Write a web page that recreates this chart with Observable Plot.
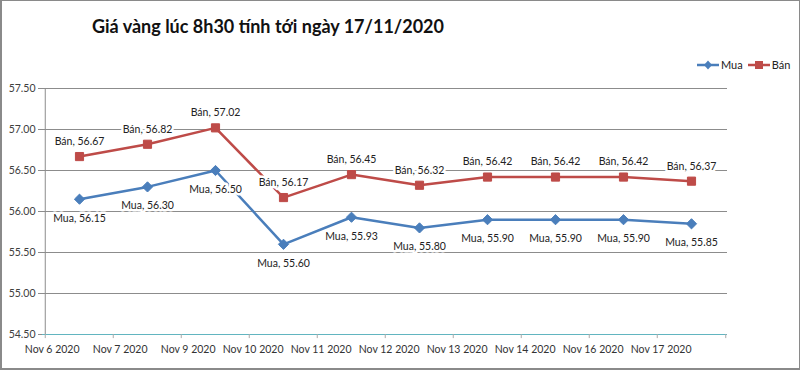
<!DOCTYPE html>
<html>
<head>
<meta charset="utf-8">
<script src="https://cdn.jsdelivr.net/npm/d3@7"></script>
<script src="https://cdn.jsdelivr.net/npm/@observablehq/plot@0.6"></script>
<style>
  html, body { margin: 0; padding: 0; background: #fff; }
  #wrap { position: relative; width: 800px; height: 370px; overflow: hidden; font-family: Lato, "Open Sans", sans-serif; }
  #frame { position: absolute; left: 0; top: 0; width: 800px; height: 370px; box-sizing: border-box;
           border: 1px solid #8a8a8a; border-left-width: 2px; border-bottom-width: 2px; pointer-events: none; }
  #title { position: absolute; left: 92px; top: 17px; font-size: 18px; font-weight: bold; line-height: 1; color: #111; white-space: nowrap; }
  #legend { position: absolute; left: 697px; top: 58px; font-size: 11px; color: #222; display: flex; align-items: center; line-height: 14px; }
  #legend .item { display: flex; align-items: center; margin-right: 5px; }
  #legend svg { margin-right: 2px; }
  #chart { position: absolute; left: 0; top: 75px; }
</style>
</head>
<body>
<div id="wrap">
  <div id="title">Giá vàng lúc 8h30 tính tới ngày 17/11/2020</div>
  <div id="legend"></div>
  <div id="chart"></div>
  <div id="frame"></div>
</div>
<script>
const dates = ["Nov 6 2020","Nov 7 2020","Nov 9 2020","Nov 10 2020","Nov 11 2020","Nov 12 2020","Nov 13 2020","Nov 14 2020","Nov 16 2020","Nov 17 2020"];
const mua = [56.15, 56.30, 56.50, 55.60, 55.93, 55.80, 55.90, 55.90, 55.90, 55.85];
const ban = [56.67, 56.82, 57.02, 56.17, 56.45, 56.32, 56.42, 56.42, 56.42, 56.37];
const seriesNames = ["Mua", "Bán"];
const seriesColors = ["#4a7ebb", "#be4b48"];
const seriesSymbols = ["diamond2", "square"];
const yTicks = [54.5, 55.0, 55.5, 56.0, 56.5, 57.0, 57.5];

const rows = dates.flatMap((d, i) => [
  {date: d, series: seriesNames[0], value: mua[i]},
  {date: d, series: seriesNames[1], value: ban[i]}
]);

const W = 800, H = 295, ML = 42, MR = 73, MT = 13, MB = 36;
const half = (W - ML - MR) / dates.length / 2;
const fmt = d3.format(".2f");
const yMin = yTicks[0], yMax = yTicks[yTicks.length - 1];

const marks = [
  Plot.ruleY(yTicks.filter(t => t > yMin), {stroke: "#8c8c8c", strokeWidth: 1}),
  Plot.ruleY([yMin], {stroke: "#62b5c0", strokeWidth: 1}),
  Plot.ruleX([dates[0]], {y1: yMin, y2: yMax, dx: -half, stroke: "#8c8c8c"}),
  Plot.ruleX(dates, {x: d => d, y1: yMin, y2: yMin - 0.05, dx: -half, stroke: "#aaaaaa"}),
  Plot.ruleX([dates[dates.length - 1]], {x: d => d, y1: yMin, y2: yMin - 0.05, dx: half, stroke: "#aaaaaa"}),
  Plot.axisY({ticks: yTicks, tickFormat: fmt, tickSize: 4, tickPadding: 3, stroke: "#8c8c8c", fill: "#404040", label: null, fontSize: 10.5}),
  Plot.axisX({tickSize: 0, tickPadding: 11, textAnchor: "end", fill: "#333", label: null, fontSize: 10.5}),
  Plot.line(rows, {x: "date", y: "value", z: "series", stroke: "series", strokeWidth: 2.5})
];
seriesNames.forEach((s, k) => {
  const sub = rows.filter(r => r.series === s);
  marks.push(Plot.dot(sub, {x: "date", y: "value", symbol: seriesSymbols[k], r: 4.6, fill: seriesColors[k], stroke: seriesColors[k], strokeWidth: 1}));
});
seriesNames.forEach((s, k) => {
  const sub = rows.filter(r => r.series === s);
  marks.push(Plot.text(sub, {x: "date", y: "value", text: d => `${d.series}, ${fmt(d.value)}`,
    dy: k === 0 ? 19 : -15, fill: "#222", stroke: "white", strokeWidth: 5, fontSize: 10.5}));
});

const chart = Plot.plot({
  width: W, height: H, marginLeft: ML, marginRight: MR, marginTop: MT, marginBottom: MB,
  style: {fontFamily: "Lato, 'Open Sans', sans-serif", fontSize: "11px", color: "#333", background: "transparent"},
  x: {type: "point", domain: dates, padding: 0.5},
  y: {domain: [yMin, yMax]},
  color: {domain: seriesNames, range: seriesColors},
  marks
});
document.getElementById("chart").appendChild(chart);

// legend
const legend = document.getElementById("legend");
seriesNames.forEach((s, k) => {
  const item = document.createElement("div");
  item.className = "item";
  const sym = k === 0
    ? `<path d="M11 1.5 L15 6 L11 10.5 L7 6 Z" fill="${seriesColors[k]}"/>`
    : `<rect x="7" y="2" width="8" height="8" fill="${seriesColors[k]}"/>`;
  item.innerHTML = `<svg width="22" height="12"><line x1="0" y1="6" x2="22" y2="6" stroke="${seriesColors[k]}" stroke-width="2.5"/>${sym}</svg><span>${s}</span>`;
  legend.appendChild(item);
});
</script>
</body>
</html>
